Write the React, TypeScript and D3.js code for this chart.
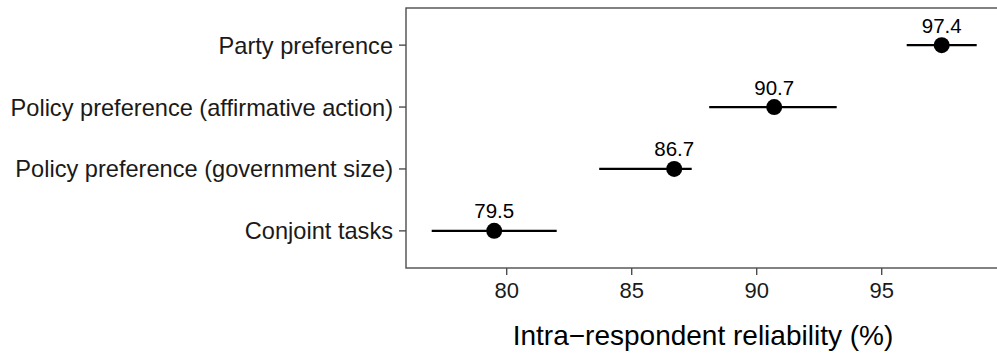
import React, { useRef, useEffect } from 'react';
import * as d3 from 'd3';

// rows, top to bottom
const categories = [
  'Party preference',
  'Policy preference (affirmative action)',
  'Policy preference (government size)',
  'Conjoint tasks',
];
const estimates = [97.4, 90.7, 86.7, 79.5];
const lowers = [96.0, 88.1, 83.7, 77.0];
const uppers = [98.8, 93.2, 87.4, 82.0];
const xTicks = [80, 85, 90, 95];

const W = 997;
const H = 356;
const FONT = '"Liberation Sans", Arial, Helvetica, sans-serif';

const App = () => {
  const svgRef = useRef<SVGSVGElement>(null);

  useEffect(() => {
    const svg = d3.select(svgRef.current);
    svg.selectAll('*').remove();

    const panel = { left: 406, top: 8, right: 1006, bottom: 268 };

    const x = d3.scaleLinear().domain([76, 100]).range([panel.left + 0.7, panel.right + 0.7]);
    const y = d3.scalePoint<string>().domain(categories).range([panel.top, panel.bottom]).padding(0.6);

    const data = categories.map((c, i) => ({
      cat: c,
      est: estimates[i],
      lo: lowers[i],
      hi: uppers[i],
    }));

    // panel border
    svg.append('rect')
      .attr('x', panel.left)
      .attr('y', panel.top)
      .attr('width', panel.right - panel.left)
      .attr('height', panel.bottom - panel.top)
      .attr('fill', 'white')
      .attr('stroke', '#4d4d4d')
      .attr('stroke-width', 1.4);

    // y axis ticks + labels
    const yAxis = svg.append('g');
    yAxis.selectAll('line')
      .data(categories)
      .enter()
      .append('line')
      .attr('x1', panel.left - 7)
      .attr('x2', panel.left)
      .attr('y1', d => y(d)!)
      .attr('y2', d => y(d)!)
      .attr('stroke', '#4d4d4d')
      .attr('stroke-width', 1.4);
    yAxis.selectAll('text')
      .data(categories)
      .enter()
      .append('text')
      .attr('x', panel.left - 13)
      .attr('y', d => y(d)!)
      .attr('dy', '0.36em')
      .attr('text-anchor', 'end')
      .style('font-family', FONT)
      .style('font-size', '23.6px')
      .style('fill', '#1a1a1a')
      .text(d => d);

    // x axis ticks + labels
    const xAxis = svg.append('g');
    xAxis.selectAll('line')
      .data(xTicks)
      .enter()
      .append('line')
      .attr('x1', d => x(d))
      .attr('x2', d => x(d))
      .attr('y1', panel.bottom)
      .attr('y2', panel.bottom + 7)
      .attr('stroke', '#4d4d4d')
      .attr('stroke-width', 1.4);
    xAxis.selectAll('text')
      .data(xTicks)
      .enter()
      .append('text')
      .attr('x', d => x(d))
      .attr('y', 298)
      .attr('text-anchor', 'middle')
      .style('font-family', FONT)
      .style('font-size', '22px')
      .style('fill', '#1a1a1a')
      .text(d => d);

    // axis title
    svg.append('text')
      .attr('x', (panel.left + 996) / 2 + 2)
      .attr('y', 345)
      .attr('text-anchor', 'middle')
      .style('font-family', FONT)
      .style('font-size', '28px')
      .style('fill', '#000')
      .text('Intra\u2212respondent reliability (%)');

    // error bars
    svg.append('g')
      .selectAll('line')
      .data(data)
      .enter()
      .append('line')
      .attr('x1', d => x(d.lo))
      .attr('x2', d => x(d.hi))
      .attr('y1', d => y(d.cat)!)
      .attr('y2', d => y(d.cat)!)
      .attr('stroke', 'black')
      .attr('stroke-width', 2.2);

    // points
    svg.append('g')
      .selectAll('circle')
      .data(data)
      .enter()
      .append('circle')
      .attr('cx', d => x(d.est))
      .attr('cy', d => y(d.cat)!)
      .attr('r', 8)
      .attr('fill', 'black');

    // value labels
    svg.append('g')
      .selectAll('text')
      .data(data)
      .enter()
      .append('text')
      .attr('x', d => x(d.est))
      .attr('y', d => y(d.cat)! - 12.5)
      .attr('text-anchor', 'middle')
      .style('font-family', FONT)
      .style('font-size', '20.5px')
      .style('fill', 'black')
      .text(d => d.est.toFixed(1));
  }, []);

  return (
    <svg
      ref={svgRef}
      width={W}
      height={H}
      style={{ position: 'absolute', left: 0, top: 0, background: 'white' }}
    />
  );
};

export default App;
